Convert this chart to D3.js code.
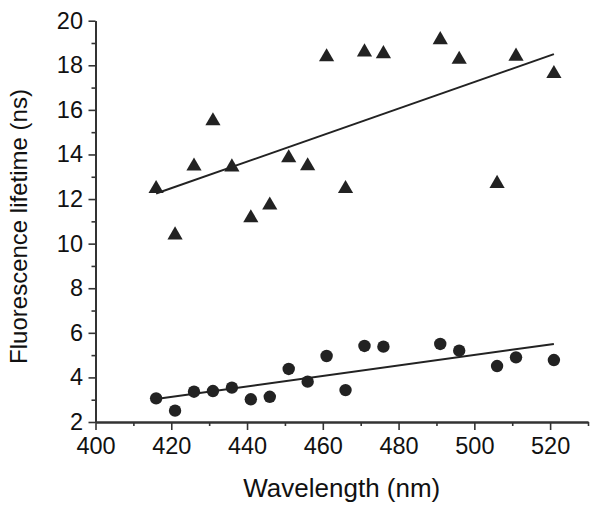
<!DOCTYPE html>
<html>
<head>
<meta charset="utf-8">
<script src="https://cdn.jsdelivr.net/npm/d3@7"></script>
<style>
  html, body { margin: 0; padding: 0; background: #fff; }
  svg { display: block; }
  text { font-family: "Liberation Sans", Arial, Helvetica, sans-serif; fill: #111; }
</style>
</head>
<body>
<svg id="chart" width="600" height="511"></svg>
<script>
// ---- data ----
const wavelengths = [416, 421, 426, 431, 436, 441, 446, 451, 456, 461, 466, 471, 476, 491, 496, 506, 511, 521];
const triangleValues = [12.55, 10.47, 13.56, 15.59, 13.52, 11.24, 11.81, 13.93, 13.57, 18.46, 12.55, 18.68, 18.6, 19.23, 18.35, 12.78, 18.49, 17.71];
const circleValues = [3.06, 2.51, 3.36, 3.39, 3.54, 3.02, 3.13, 4.38, 3.81, 4.96, 3.43, 5.41, 5.38, 5.5, 5.2, 4.51, 4.9, 4.78];
const fitX = [416, 521];
const triangleFit = [12.25, 18.5];
const circleFit = [3.03, 5.5];
const xMajorTicks = [400, 420, 440, 460, 480, 500, 520];
const xMinorTicks = [410, 430, 450, 470, 490, 510, 530];
const yMajorTicks = [2, 4, 6, 8, 10, 12, 14, 16, 18, 20];
const yMinorTicks = [3, 5, 7, 9, 11, 13, 15, 17, 19];
const xTitle = "Wavelength (nm)";
const yTitle = "Fluorescence lifetime (ns)";

// ---- layout ----
const svg = d3.select("#chart");
const plotLeft = 95.5, plotRight = 588, plotTop = 20.7, plotBottom = 422;
const ink = "#222";

const x = d3.scaleLinear().domain([400, 530]).range([plotLeft, plotRight]);
const y = d3.scaleLinear().domain([2, 20]).range([plotBottom, plotTop]);

function styleAxis(g) {
  g.selectAll(".domain").attr("stroke", "#333").attr("stroke-width", 2);
  g.selectAll(".tick line").attr("stroke", "#333").attr("stroke-width", 1.6);
  g.selectAll(".tick text").attr("fill", "#111")
    .style("font-family", '"Liberation Sans", Arial, Helvetica, sans-serif')
    .style("font-size", "23.5px");
}

// minor ticks
svg.append("g").attr("transform", `translate(0,${plotBottom})`)
  .call(d3.axisBottom(x).tickValues(xMinorTicks).tickSize(4).tickSizeOuter(0).tickFormat(""))
  .call(styleAxis);
svg.append("g").attr("transform", `translate(${plotLeft},0)`)
  .call(d3.axisLeft(y).tickValues(yMinorTicks).tickSize(4).tickSizeOuter(0).tickFormat(""))
  .call(styleAxis);

// major ticks
svg.append("g").attr("transform", `translate(0,${plotBottom})`)
  .call(d3.axisBottom(x).tickValues(xMajorTicks).tickSize(8).tickSizeOuter(0).tickPadding(7).tickFormat(d3.format("d")))
  .call(styleAxis);
svg.append("g").attr("transform", `translate(${plotLeft},0)`)
  .call(d3.axisLeft(y).tickValues(yMajorTicks).tickSize(7).tickSizeOuter(0).tickPadding(5.5).tickFormat(d3.format("d")))
  .call(styleAxis);

// axis titles
svg.append("text")
  .attr("x", (plotLeft + plotRight) / 2).attr("y", 497)
  .attr("text-anchor", "middle")
  .style("font-size", "26px")
  .text(xTitle);
svg.append("text")
  .attr("transform", `translate(26.5,226.5) rotate(-90)`)
  .attr("text-anchor", "middle")
  .style("font-size", "24px")
  .text(yTitle);

// fit lines
const line = d3.line().x(d => x(d[0])).y(d => y(d[1]));
svg.append("path")
  .datum(fitX.map((v, i) => [v, triangleFit[i]]))
  .attr("d", line).attr("fill", "none").attr("stroke", ink).attr("stroke-width", 2);
svg.append("path")
  .datum(fitX.map((v, i) => [v, circleFit[i]]))
  .attr("d", line).attr("fill", "none").attr("stroke", ink).attr("stroke-width", 2);

// triangles
const triPath = "M0,-6.8L7.6,6.3L-7.6,6.3Z";
svg.append("g").selectAll("path")
  .data(wavelengths.map((w, i) => [w, triangleValues[i]]))
  .join("path")
  .attr("d", triPath)
  .attr("transform", d => `translate(${x(d[0])},${y(d[1])})`)
  .attr("fill", ink);

// circles
svg.append("g").selectAll("circle")
  .data(wavelengths.map((w, i) => [w, circleValues[i]]))
  .join("circle")
  .attr("cx", d => x(d[0])).attr("cy", d => y(d[1]))
  .attr("r", 6.2)
  .attr("fill", ink);
</script>
</body>
</html>
